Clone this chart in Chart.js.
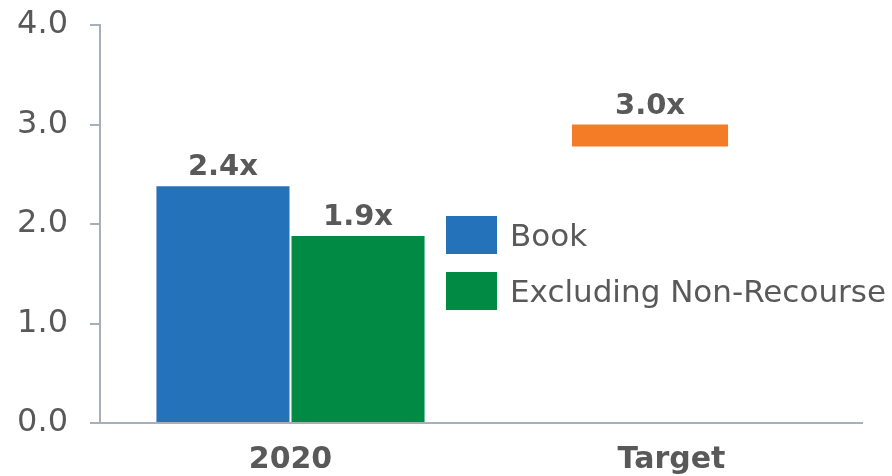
<!DOCTYPE html>
<html>
<head>
<meta charset="utf-8">
<script src="https://cdn.jsdelivr.net/npm/chart.js@4/dist/chart.umd.min.js"></script>
<style>
  html, body { margin: 0; padding: 0; background: #fff; }
  #wrap { position: relative; width: 892px; height: 476px; }
  #legend { position: absolute; left: 446px; top: 216px; font-family: "DejaVu Sans", sans-serif; font-size: 31px; color: #595959; }
  #legend .row { display: flex; align-items: center; height: 38px; margin-bottom: 18px; }
  #legend .box { width: 51px; height: 38px; margin-right: 13px; }
</style>
</head>
<body>
<div id="wrap">
  <canvas id="chart" width="892" height="476"></canvas>
  <div id="legend"></div>
</div>
<script>
// categories + values
const categories = ["2020", "Target"];
const bookValues = [2.38, null];
const exclNonRecourseValues = [1.88, null];
const targetRange = [null, [2.78, 3.0]];
const yTicks = [0, 1, 2, 3, 4];

const textGray = "#595959";
const axisGray = "#a7b0b9";

// value labels above bars ("2.4x")
const valueLabels = {
  id: "valueLabels",
  afterDatasetsDraw(chart) {
    const ctx = chart.ctx;
    ctx.save();
    ctx.font = "bold 29px 'DejaVu Sans'";
    ctx.fillStyle = textGray;
    ctx.textAlign = "center";
    ctx.textBaseline = "alphabetic";
    chart.data.datasets.forEach((ds, i) => {
      const meta = chart.getDatasetMeta(i);
      meta.data.forEach((bar, j) => {
        let v = ds.data[j];
        if (v == null) return;
        if (Array.isArray(v)) v = v[1];
        ctx.fillText(v.toFixed(1) + "x", bar.x, bar.y - 11);
      });
    });
    ctx.restore();
  }
};

const chart = new Chart(document.getElementById("chart"), {
  type: "bar",
  data: {
    labels: categories,
    datasets: [
      {
        label: "Book",
        data: bookValues,
        backgroundColor: "#2472b9",
        stack: "a",
        categoryPercentage: 0.709,
        barPercentage: 0.985
      },
      {
        label: "Excluding Non-Recourse",
        data: exclNonRecourseValues,
        backgroundColor: "#008a44",
        stack: "b",
        categoryPercentage: 0.709,
        barPercentage: 0.985
      },
      {
        label: "Target",
        data: targetRange,
        backgroundColor: "#f57c26",
        stack: "a",
        // sits a bit left of the category centre, like the original
        categoryPercentage: 0.2257,
        barPercentage: 3.63,
        hideInLegend: true
      }
    ]
  },
  options: {
    responsive: false,
    animation: false,
    layout: { padding: { left: 17, right: 30, top: 25, bottom: -13 } },
    plugins: {
      legend: { display: false },
      tooltip: { enabled: false }
    },
    scales: {
      x: {
        grid: { display: false },
        border: { display: true, color: axisGray, width: 2 },
        ticks: {
          color: textGray,
          padding: 11,
          font: { family: "DejaVu Sans", size: 30, weight: "bold" }
        }
      },
      y: {
        stacked: false,
        min: 0,
        max: 4,
        afterBuildTicks: (axis) => { axis.ticks = yTicks.map(v => ({ value: v })); },
        afterFit: (axis) => {
          axis.width = 83;
          axis.paddingTop = 0;
          axis.paddingBottom = 0;
        },
        grid: { display: true, drawOnChartArea: false, drawTicks: true, tickLength: 10, color: axisGray, lineWidth: 2 },
        border: { display: true, color: axisGray, width: 2 },
        ticks: {
          color: textGray,
          padding: 22,
          font: { family: "DejaVu Sans", size: 32 },
          callback: (v) => Number(v).toFixed(1)
        }
      }
    }
  },
  plugins: [valueLabels]
});

// simple html legend
const legendEl = document.getElementById("legend");
chart.data.datasets.filter(ds => !ds.hideInLegend).forEach(ds => {
  const row = document.createElement("div");
  row.className = "row";
  row.innerHTML = '<span class="box" style="background:' + ds.backgroundColor + '"></span><span>' + ds.label + '</span>';
  legendEl.appendChild(row);
});
</script>
</body>
</html>
